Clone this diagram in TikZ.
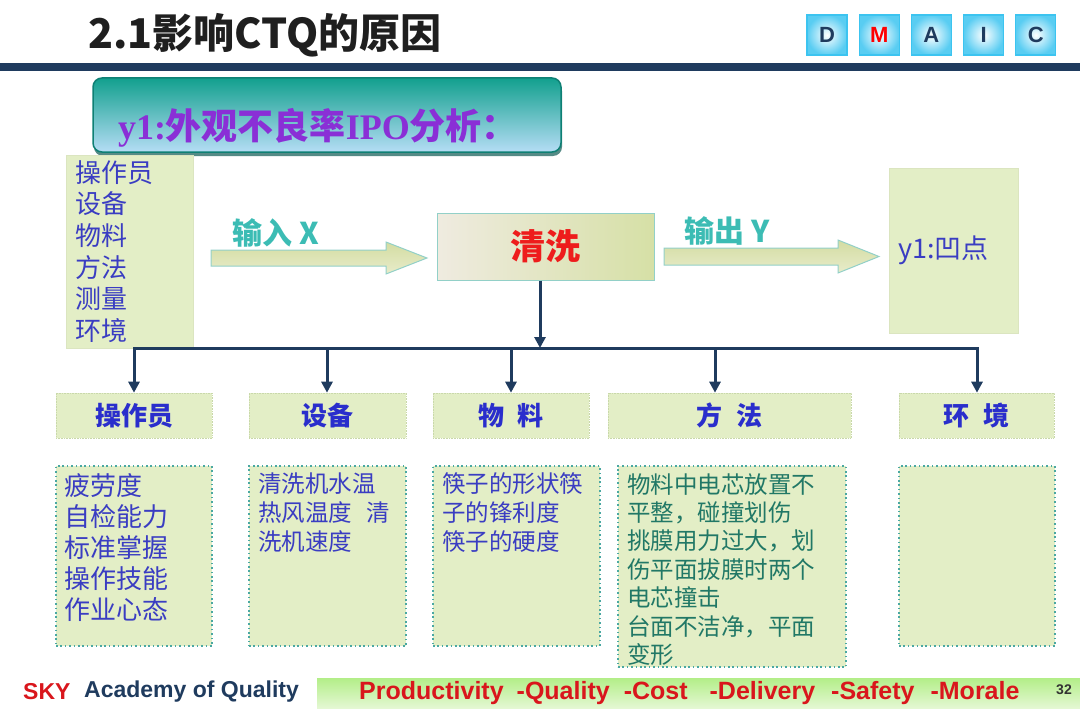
\documentclass[tikz,border=0pt]{standalone}
\usepackage{fontspec}
\setmainfont{Noto Sans CJK SC}
\newfontfamily\arialfont{Liberation Sans}
\newfontfamily\timesfont{Liberation Serif}
\usetikzlibrary{arrows.meta,shadows}

\definecolor{navy}{HTML}{1F3B5E}
\definecolor{boxgreen}{HTML}{E3EEC6}
\definecolor{inkblue}{HTML}{3A3DC2}
\definecolor{headblue}{HTML}{2A2ECC}
\definecolor{dotteal}{HTML}{4AA8A2}
\definecolor{methodgreen}{HTML}{217866}
\definecolor{washred}{HTML}{EE1C1C}
\definecolor{labelteal}{HTML}{3CBCB4}
\definecolor{bannerpurple}{HTML}{8A2FD6}
\definecolor{bannertop}{HTML}{12A08E}
\definecolor{bannerbottom}{HTML}{B5DDF5}
\definecolor{bannerline}{HTML}{0E8074}
\definecolor{bannershadow}{HTML}{2B6E68}
\definecolor{footred}{HTML}{D9161C}
\definecolor{footgreentop}{HTML}{B3EE88}
\definecolor{footgreenbottom}{HTML}{E6F8D6}
\definecolor{glowblue}{HTML}{3CC4F0}
\definecolor{arrowline}{HTML}{92D0C8}
\definecolor{arrowtop}{HTML}{D3DCA2}
\definecolor{arrowbottom}{HTML}{E8ECCA}
\definecolor{washleft}{HTML}{EFEBE0}
\definecolor{washright}{HTML}{D6E0A6}
\definecolor{catline}{HTML}{C9D8AA}

\newcommand{\fsz}[2]{\fontsize{#1}{#2}\selectfont}

\begin{document}
\begin{tikzpicture}[x=1pt,y=-1pt,
  plain_text/.style={inner sep=0pt,anchor=west},
  dmaic_box/.style={draw=glowblue,line width=1.2pt,inner color=white,outer color=glowblue!85,minimum width=40pt,minimum height=40pt,inner sep=0pt,font=\arialfont\bfseries\fsz{22}{22}},
  banner_box/.style={rounded corners=9pt,draw=bannerline,line width=1.5pt,top color=bannertop,bottom color=bannerbottom,minimum width=468pt,minimum height=74pt,drop shadow={shadow xshift=1pt,shadow yshift=-4pt,fill=bannershadow,opacity=.8}},
  banner_text/.style={text=bannerpurple,font=\bfseries\fsz{36}{36},inner sep=0pt},
  pale_box/.style={fill=boxgreen,draw=boxgreen!92!gray,line width=.4pt,inner xsep=9pt,inner ysep=0pt,align=left,text=inkblue},
  wash_box/.style={draw=arrowline,line width=1pt,left color=washleft,right color=washright,minimum width=217pt,minimum height=67pt,text=washred,font=\bfseries\fsz{35}{35}},
  block_arrow/.style={draw=arrowline,line width=1pt,top color=arrowtop,bottom color=arrowbottom},
  arrow_label/.style={plain_text,text=labelteal,font=\bfseries\fsz{30}{30}},
  cat_box/.style={fill=boxgreen,draw=catline,densely dotted,line width=.6pt,minimum height=45pt,text=headblue,font=\bfseries\fsz{26}{26}},
  detail_box/.style={fill=boxgreen,draw=dotteal,dash pattern=on 1.6pt off 2.8pt,line width=1.6pt},
  detail_text/.style={anchor=north west,inner sep=0pt,align=left},
  bus_line/.style={draw=navy,line width=3pt}]

\useasboundingbox (0,0) rectangle (1080,709);

% heading
\node[plain_text,font=\bfseries\fsz{41}{41},text=black!88] (title) at (88,35) {2.1影响CTQ的原因};
\foreach \letter/\col [count=\i] in {D/navy,M/red,A/navy,I/navy,C/navy}
  \node[dmaic_box,text=\col] (dmaic\i) at ({827+52.2*(\i-1)},35) {\letter};
\fill[navy] (0,63) rectangle (1080,71);

\node[banner_box] (banner) at (327,115) {};
\node[banner_text] (bannertext) at ([shift={(-9,13)}]banner.center) {{\timesfont y1:}外观不良率{\timesfont IPO}分析：};

% input - process - output
\node[pale_box,minimum width=127pt,minimum height=193pt,text width=109pt,font=\fsz{26}{31.6}] (inputs) at (129.5,251.5) {操作员\\设备\\物料\\方法\\测量\\环境};
\node[wash_box] (wash) at (545.5,246.5) {清洗};
\node[pale_box,minimum width=129pt,minimum height=165pt,text width=111pt,font=\fsz{27}{27}] (output) at (953.5,250.5) {y1:凹点};

\draw[block_arrow] (211,250) -- (386,250) -- (386,242) -- (427,258) -- (386,274) -- (386,266) -- (211,266) -- cycle;
\node[arrow_label] (inlabel) at (232,233) {输入 X};
\draw[block_arrow] (664,248) -- (838,248) -- (838,240) -- (879,256.5) -- (838,273) -- (838,265) -- (664,265) -- cycle;
\node[arrow_label] (outlabel) at (684,231) {输出 Y};

% categories
\node[cat_box,minimum width=156pt] (cat1) at (134,415.5) {操作员};
\node[cat_box,minimum width=157pt] (cat2) at (327.5,415.5) {设备};
\node[cat_box,minimum width=156pt] (cat3) at (511,415.5) {物\hspace{14pt}料};
\node[cat_box,minimum width=243pt] (cat4) at (729.5,415.5) {方\hspace{14pt}法};
\node[cat_box,minimum width=155pt] (cat5) at (976.5,415.5) {环\hspace{14pt}境};

\foreach \i/\x in {1/134,2/327,3/511,4/715,5/977}
  \coordinate (bus\i) at (\x,348);
\coordinate (drop) at (540,348);
\draw[bus_line,line cap=rect] (bus1) -- (bus5);
\draw[bus_line,-{Triangle[width=11pt,length=11pt]}] (drop |- wash.south) -- (drop);
\foreach \i in {1,...,5}
  \draw[bus_line,-{Triangle[width=11pt,length=11pt]}] (bus\i) -- (bus\i |- cat\i.north);

% causes
\node[detail_box,minimum width=156pt,minimum height=180pt] (cause1) at (134,556) {};
\node[detail_box,minimum width=157pt,minimum height=180pt] (cause2) at (327.5,556) {};
\node[detail_box,minimum width=167pt,minimum height=180pt] (cause3) at (516.5,556) {};
\node[detail_box,minimum width=228pt,minimum height=201pt] (cause4) at (732,566.5) {};
\node[detail_box,minimum width=156pt,minimum height=180pt] (cause5) at (977,556) {};

\node[detail_text,text=inkblue,font=\fsz{26}{31}] (text1) at ([shift={(9,8)}]cause1.north west) {疲劳度\\自检能力\\标准掌握\\操作技能\\作业心态};
\node[detail_text,text=inkblue,font=\fsz{23.5}{29}] (text2) at ([shift={(10,7)}]cause2.north west) {清洗机水温\\热风温度\hspace{14pt}清\\洗机速度};
\node[detail_text,text=inkblue,font=\fsz{23.5}{29}] (text3) at ([shift={(10,7)}]cause3.north west) {筷子的形状筷\\子的锋利度\\筷子的硬度};
\node[detail_text,text=methodgreen,font=\fsz{23.5}{28.4}] (text4) at ([shift={(10,8)}]cause4.north west) {物料中电芯放置不\\平整，碰撞划伤\\挑膜用力过大，划\\伤平面拔膜时两个\\电芯撞击\\台面不洁净，平面\\变形};

% footer
\node[plain_text,font=\arialfont\bfseries\fsz{23}{23},text=footred] (sky) at (23,692) {SKY};
\node[plain_text,font=\arialfont\bfseries\fsz{23}{23},text=navy] (academy) at (84,692) {Academy of Quality};
\fill[top color=footgreentop,bottom color=footgreenbottom] (317,678) rectangle (1080,709);
\node[plain_text,font=\arialfont\bfseries\fsz{25}{25},text=footred] (pqcdsm) at (359,693) {Productivity\hspace{13pt}-Quality\hspace{14pt}-Cost\hspace{22pt}-Delivery\hspace{16pt}-Safety\hspace{16pt}-Morale};
\node[font=\arialfont\bfseries\fsz{14}{14},text=black!80] (pagenum) at (1064,690) {32};
\end{tikzpicture}
\end{document}
